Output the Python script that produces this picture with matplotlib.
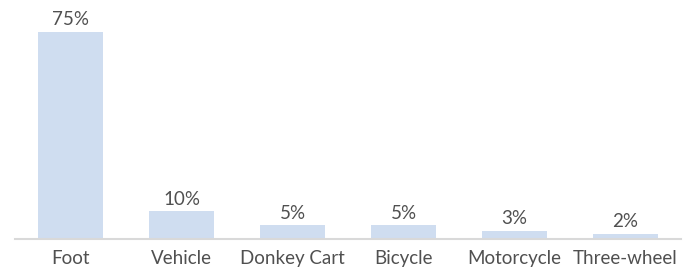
import matplotlib.pyplot as plt

categories = ["Foot", "Vehicle", "Donkey Cart", "Bicycle", "Motorcycle", "Three-wheel"]
shares = [75, 10, 5, 5, 3, 2]

plt.rcParams['font.family'] = ['Lato', 'DejaVu Sans']

fig = plt.figure(figsize=(6.89, 2.68), dpi=100)
ax = fig.add_axes([15 / 689, 0.108, 666 / 689, 0.892])

x = range(len(categories))
bars = ax.bar(x, shares, width=0.58, color="#cfddf0")
for b, v in zip(bars, shares):
    ax.text(b.get_x() + b.get_width() / 2, v + 1.3, f"{v}%", ha="center", va="bottom",
            fontsize=13.5, color="#505050")

ax.set_xlim(-0.5, 5.5)
ax.set_ylim(0, 86.6)
ax.set_xticks(list(x))
ax.set_xticklabels(categories, fontsize=13.5, color="#505050")
ax.tick_params(axis="x", length=0, pad=8)
ax.set_yticks([])
for s in ["top", "left", "right"]:
    ax.spines[s].set_visible(False)
ax.spines["bottom"].set_color("#d9d9d9")
ax.spines["bottom"].set_linewidth(1.5)

fig.savefig("out.png", dpi=100)
